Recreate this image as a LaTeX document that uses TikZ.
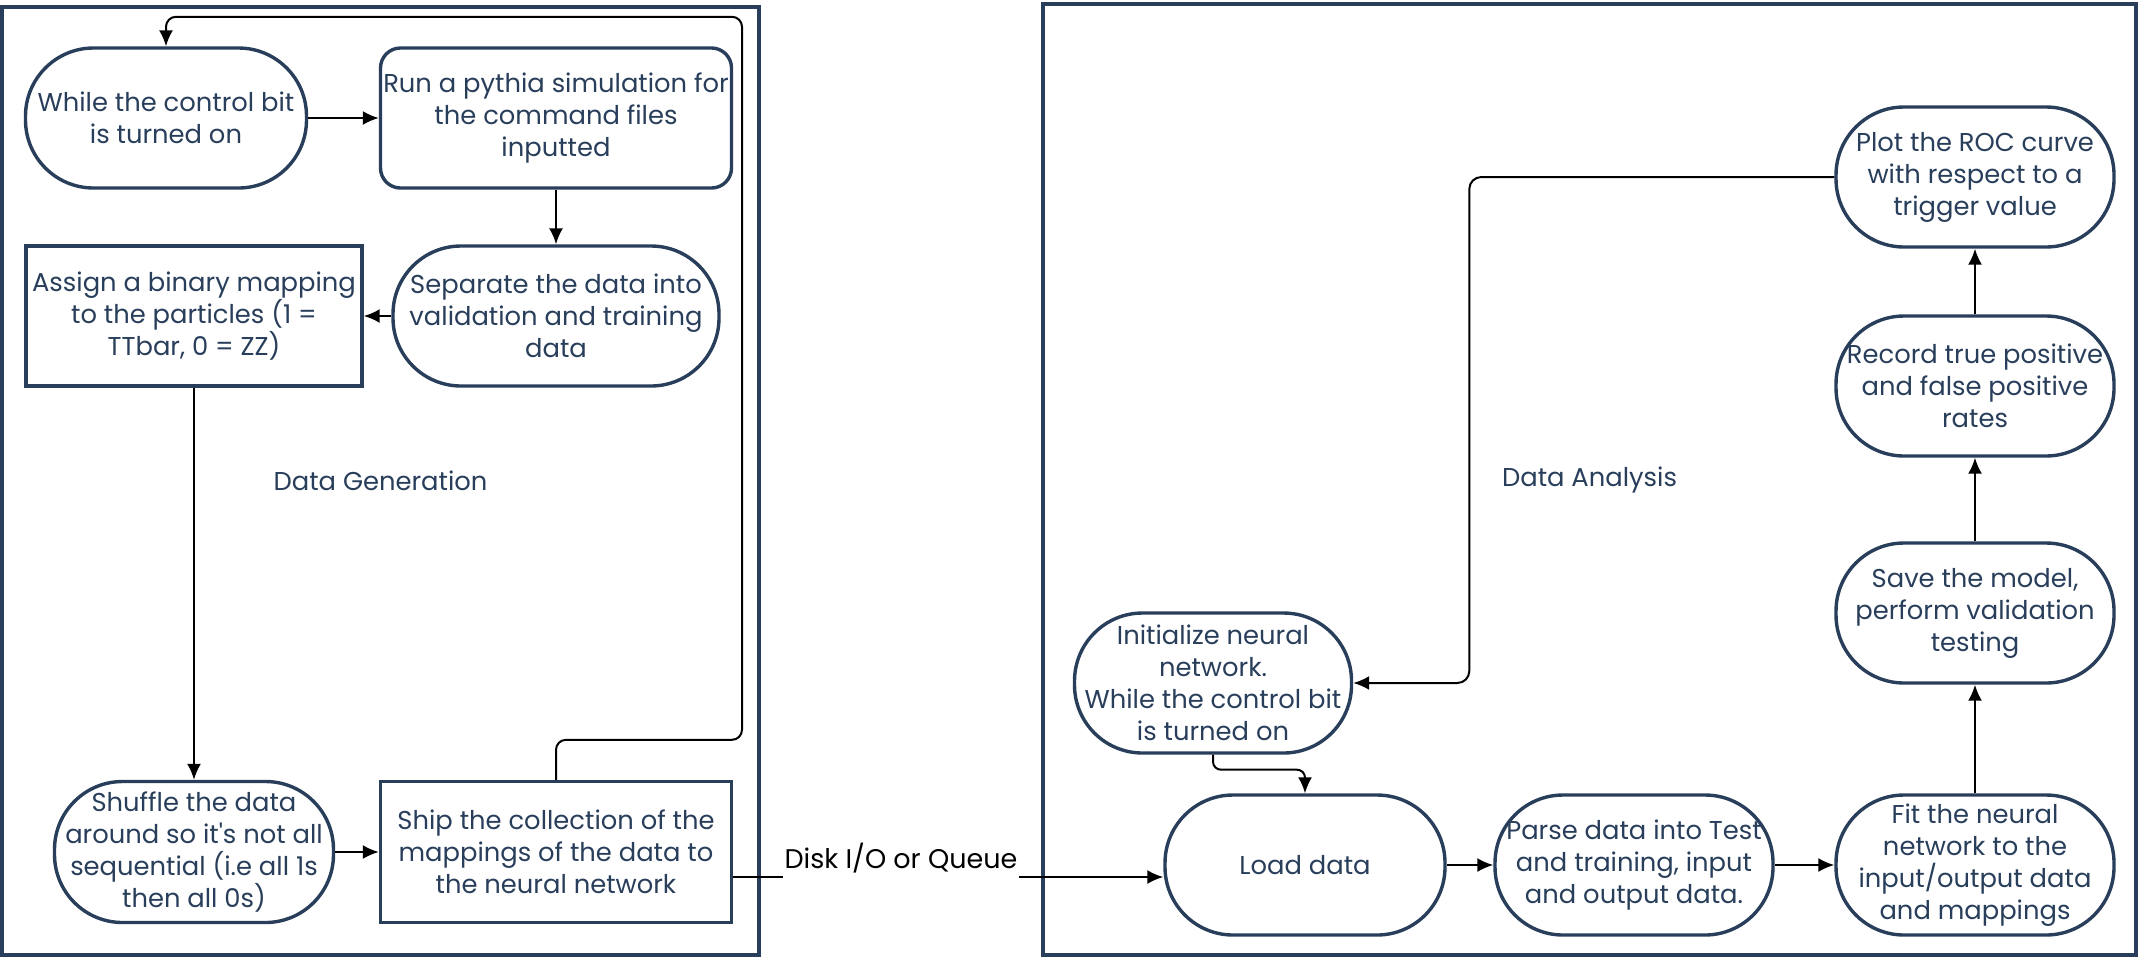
\documentclass[tikz,border=0pt]{standalone}
\usepackage{fontspec}
\setmainfont{Poppins}
\usetikzlibrary{arrows.meta}

\definecolor{ink}{HTML}{283E5A}
\newcommand{\boxfont}{\fontsize{12.9}{16}\selectfont}

\tikzset{
  frame/.style={draw=ink, line width=2pt, text=ink, font=\boxfont},
  box/.style={draw=ink, line width=1.7pt, text=ink, align=center, inner sep=0pt, font=\boxfont},
  oval/.style={box, rounded corners=#1},
  oval/.default=34pt,
  arr/.style={-{Latex[length=8pt,width=7pt]}, line width=1pt},
  iolabel/.style={fill=white, text=black, font=\fontsize{13.5}{16}\selectfont, inner xsep=1pt, inner ysep=4pt}
}

\begin{document}
\begin{tikzpicture}[x=0.5pt, y=-0.5pt]
\useasboundingbox (0,0) rectangle (2140,960);

% the two containers
\node[frame, minimum width=378.5pt, minimum height=474pt] (gen) at (380.5,481) {Data Generation};
\node[frame, minimum width=546.5pt, minimum height=475.5pt] (ana) at (1589.5,479.5) {Data Analysis};

% data generation
\node[oval, minimum width=140.5pt, minimum height=70pt] (wh) at (166,118) {While the control bit\\is turned on};
\node[box, rounded corners=10pt, minimum width=175.5pt, minimum height=70pt] (run) at (556,118) {Run a pythia simulation for\\the command files\\inputted};
\node[oval, minimum width=163pt, minimum height=70pt] (sep) at (556,316) {Separate the data into\\validation and training\\data};
\node[box, minimum width=168pt, minimum height=70pt] (asg) at (194,316) {Assign a binary mapping\\to the particles (1 =\\TTbar, 0 = ZZ)};
\node[oval, minimum width=139.5pt, minimum height=70.5pt] (shuf) at (194,852) {Shuffle the data\\around so it\textquotesingle s not all\\sequential (i.e all 1s\\then all 0s)};
\node[box, minimum width=175.5pt, minimum height=70.5pt] (ship) at (556,852) {Ship the collection of the\\mappings of the data to\\the neural network};

% data analysis
\node[oval, minimum width=138.5pt, minimum height=70pt] (init) at (1213,683) {Initialize neural\\network.\\While the control bit\\is turned on};
\node[oval, minimum width=140pt, minimum height=70pt] (load) at (1305,865) {Load data};
\node[oval, minimum width=139pt, minimum height=70pt] (parse) at (1634,865) {Parse data into Test\\and training, input\\and output data.};
\node[oval, minimum width=139pt, minimum height=70pt] (fit) at (1975,865) {Fit the neural\\network to the\\input/output data\\and mappings};
\node[oval, minimum width=139pt, minimum height=70pt] (save) at (1975,613) {Save the model,\\perform validation\\testing};
\node[oval, minimum width=139pt, minimum height=70pt] (rec) at (1975,386) {Record true positive\\and false positive\\rates};
\node[oval, minimum width=139pt, minimum height=70pt] (roc) at (1975,177) {Plot the ROC curve\\with respect to a\\trigger value};

\draw[arr] (wh) -- (run);
\draw[arr] (run) -- (sep);
\draw[arr] (sep) -- (asg);
\draw[arr] (asg) -- (shuf);
\draw[arr] (shuf) -- (ship);
\draw[arr, rounded corners=5pt] (ship.north) -- ++(0,-40) -- ++(186,0) -- ++(0,-723) -| (wh.north);

\coordinate (io) at ([yshift=-12.5pt]ship.east);
\draw[arr] (io) -- node[iolabel, pos=0.39, yshift=9.5pt] {Disk I/O or Queue} (io -| load.west);

\draw[arr, rounded corners=4pt] (init.south) -- ++(0,15) -| (load.north);
\draw[arr] (load) -- (parse);
\draw[arr] (parse) -- (fit);
\draw[arr] (fit) -- (save);
\draw[arr] (save) -- (rec);
\draw[arr] (rec) -- (roc);
\draw[arr, rounded corners=6pt] (roc.west) -- ++(-365,0) |- (init.east);
\end{tikzpicture}
\end{document}
